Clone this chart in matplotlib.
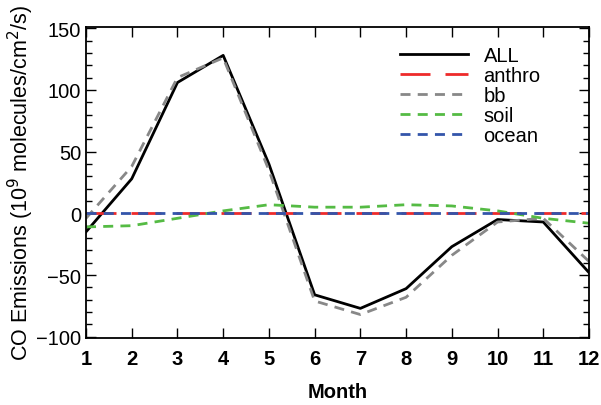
import matplotlib
matplotlib.use("Agg")
import matplotlib.pyplot as plt
from matplotlib.ticker import MultipleLocator

plt.rcParams['font.family'] = ['Liberation Sans', 'DejaVu Sans']

months = list(range(1, 13))
all_src = [-15, 28, 106, 128, 40, -66, -77, -61, -27, -5, -7, -48]
anthro = [0, 0, 0, 0, 0, 0, 0, 0, 0, 0, 0, 0]
bb = [-4, 38, 110, 126, 35, -71, -82, -68, -34, -7, -4, -39]
soil = [-11, -10, -4, 2, 7, 5, 5, 7, 6, 2, -4, -8]
ocean = [0, 0, 0, 0, 0, 0, 0, 0, 0, 0, 0, 0]

fig = plt.figure(figsize=(6.01, 4.06), dpi=100)
ax = fig.add_axes([86 / 601, 1 - 339 / 406, (589 - 86) / 601, (339 - 28) / 406])

ax.plot(months, all_src, color='black', lw=2, label='ALL')
ax.plot(months, anthro, color='#ee2a2a', lw=2, dashes=(10.8, 5.4), label='anthro')
ax.plot(months, bb, color='#888888', lw=2, dashes=(3.6, 2.6), label='bb')
ax.plot(months, soil, color='#55bb44', lw=2, dashes=(3.6, 2.6), label='soil')
ax.plot(months, ocean, color='#3355aa', lw=2, dashes=(3.6, 2.6), label='ocean')

ax.set_xlim(1, 12)
ax.set_ylim(-101, 151)
ax.set_xticks(months)
ax.yaxis.set_major_locator(MultipleLocator(50))
ax.yaxis.set_minor_locator(MultipleLocator(10))
ax.tick_params(axis='both', which='both', direction='in', top=True, right=True, labelsize=14.5)
ax.tick_params(which='major', length=7, width=1)
ax.tick_params(which='minor', length=4, width=1)
ax.tick_params(axis='x', pad=8)
for lbl in ax.get_xticklabels():
    lbl.set_fontweight('bold')
for s in ax.spines.values():
    s.set_linewidth(1.3)

ax.set_xlabel('Month', fontsize=14.5, fontweight='bold', labelpad=10)
ax.set_ylabel('CO Emissions (10$^9$ molecules/cm$^2$/s)', fontsize=15.5, labelpad=0)

leg = ax.legend(loc='upper left', bbox_to_anchor=(0.608, 0.965), frameon=False, fontsize=14.5,
                handlelength=3.4, handletextpad=0.75, labelspacing=0.05, borderaxespad=0)

fig.savefig('out.png', dpi=100)
